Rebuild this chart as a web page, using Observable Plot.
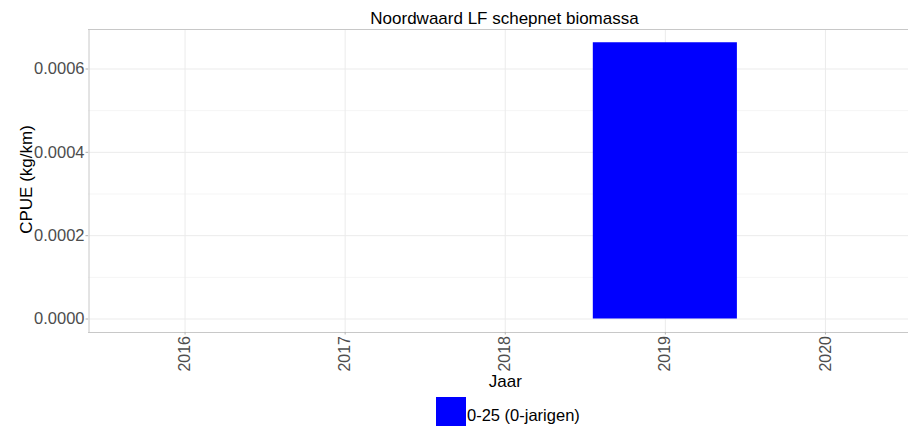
<!DOCTYPE html>
<html>
<head>
<meta charset="utf-8">
<script src="https://cdn.jsdelivr.net/npm/d3@7"></script>
<script src="https://cdn.jsdelivr.net/npm/@observablehq/plot@0.6"></script>
<style>
  html, body { margin: 0; padding: 0; background: white; overflow: hidden; }
  body { width: 908px; height: 426px; font-family: "Liberation Sans", Arial, sans-serif; }
  #title { box-sizing: border-box; width: 908px; padding-left: 101px; padding-top: 9px; height: 29px; line-height: 20px; font-size: 17px; text-align: center; color: #000; white-space: nowrap; }
  #chart svg { display: block; }
  #legend { position: relative; width: 908px; height: 32px; overflow: hidden; }
  #legend .sw { position: absolute; left: 436px; top: 3px; width: 30px; height: 30px; }
  #legend .lb { position: absolute; left: 467px; top: 11px; line-height: 20px; font-size: 16.5px; color: #000; white-space: nowrap; }
</style>
</head>
<body>
<div id="title"></div>
<div id="chart"></div>
<div id="legend"></div>
<script>
// ---- data ----
const titleText = "Noordwaard LF schepnet biomassa";
const xLabel = "Jaar";
const yLabel = "CPUE (kg/km)";
const years = [2016, 2017, 2018, 2019, 2020];
const cpue = [0, 0, 0, 0.000663, 0];
const yTicks = [0, 0.0002, 0.0004, 0.0006];
const yMinor = [0.0001, 0.0003, 0.0005];
const groups = ["0-25 (0-jarigen)"];
const groupColors = ["#0000ff"];

const table = years.map((y, i) => ({year: y, value: cpue[i], group: groups[0]}));

const xDomain = [2015.4, 2020.6];
const yDomain = [-0.0000324, 0.0006948];

document.getElementById("title").textContent = titleText;

const plot = Plot.plot({
  width: 908,
  height: 365,
  marginTop: 0,
  marginLeft: 88,
  marginRight: 0,
  marginBottom: 62,
  style: {fontFamily: "'Liberation Sans', Arial, sans-serif", fontSize: "16px", background: "white", overflow: "hidden"},
  x: {type: "linear", domain: xDomain, range: [88.5, 921], axis: null},
  y: {type: "linear", domain: yDomain, axis: null},
  color: {domain: groups, range: groupColors},
  marks: [
    Plot.ruleY(yMinor, {stroke: "#f5f5f5", strokeWidth: 1}),
    Plot.ruleY(yTicks, {stroke: "#ebebeb", strokeWidth: 1}),
    Plot.ruleX(years, {stroke: "#ebebeb", strokeWidth: 1}),
    Plot.rectY(table.filter(d => d.value > 0), {
      x1: d => d.year - 0.45,
      x2: d => d.year + 0.45,
      y1: 0,
      y2: "value",
      fill: "group"
    }),
    Plot.ruleY([yDomain[0], yDomain[1]], {stroke: "#c8c8c8", strokeWidth: 1}),
    Plot.ruleX([xDomain[0]], {stroke: "#c8c8c8", strokeWidth: 1}),
    Plot.axisY({
      ticks: yTicks,
      tickFormat: d => d.toFixed(4),
      tickSize: 2.5,
      tickPadding: 1.5,
      fontSize: 16.5,
      fill: "#4d4d4d",
      stroke: "#b3b3b3",
      label: null
    }),
    Plot.axisX({
      ticks: years,
      tickFormat: d => String(d),
      tickRotate: -90,
      tickSize: 2.5,
      tickPadding: 1,
      fontSize: 16,
      fill: "#4d4d4d",
      stroke: "#b3b3b3",
      label: null
    }),
    Plot.text([xLabel], {
      x: () => (xDomain[0] + xDomain[1]) / 2,
      frameAnchor: "bottom",
      lineAnchor: "bottom",
      dy: 54.5,
      fontSize: 17,
      fill: "#000"
    }),
    Plot.text([yLabel], {
      frameAnchor: "left",
      textAnchor: "middle",
      rotate: -90,
      lineAnchor: "bottom",
      dx: -57,
      dy: -1.5,
      fontSize: 17,
      fill: "#000"
    })
  ]
});
document.getElementById("chart").appendChild(plot);

const legend = document.getElementById("legend");
groups.forEach((g, i) => {
  const sw = document.createElement("div");
  sw.className = "sw";
  sw.style.background = groupColors[i];
  const lb = document.createElement("div");
  lb.className = "lb";
  lb.textContent = g;
  legend.appendChild(sw);
  legend.appendChild(lb);
});
</script>
</body>
</html>
